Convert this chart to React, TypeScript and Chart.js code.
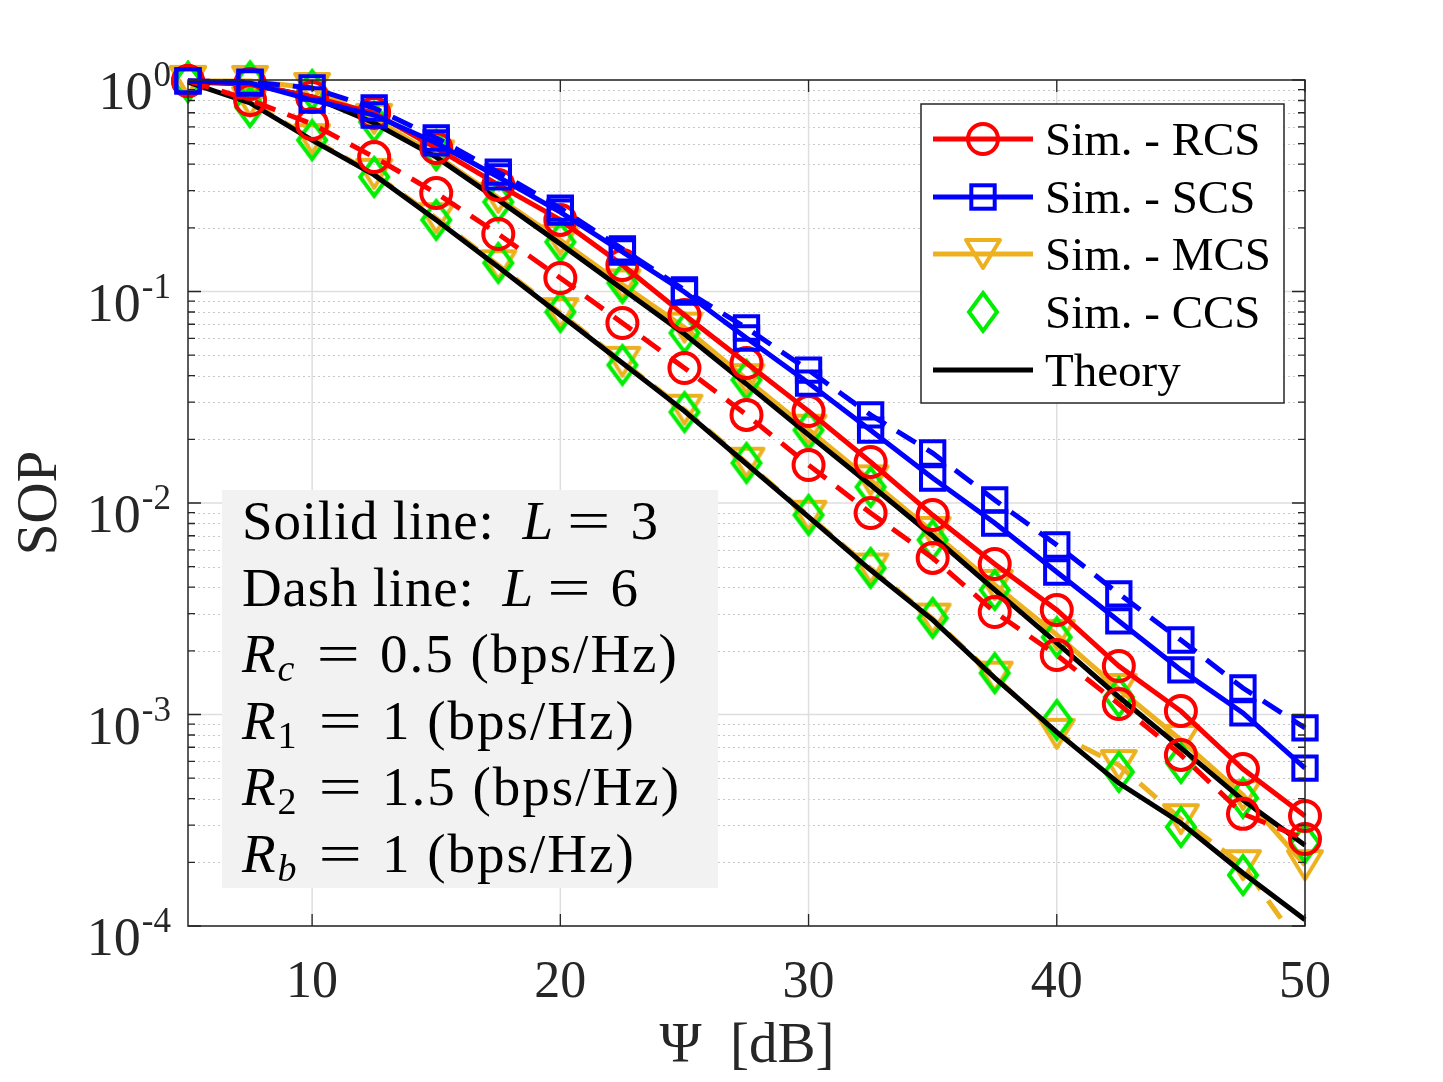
import { useEffect, useRef } from 'react';
import { Chart, registerables } from 'chart.js';

Chart.register(...registerables);

// ---------------- data ----------------
const snrDb = [5, 7.5, 10, 12.5, 15, 17.5, 20, 22.5, 25, 27.5, 30, 32.5, 35, 37.5, 40, 42.5, 45, 47.5, 50];

const rcsL3 = [0.99, 0.957, 0.831, 0.698, 0.477, 0.319, 0.218, 0.1334, 0.0774, 0.0459, 0.0272, 0.01563, 0.00877, 0.00515, 0.00312, 0.001695, 0.001038, 0.000552, 0.000331];
const rcsL6 = [0.99, 0.804, 0.619, 0.432, 0.292, 0.187, 0.1159, 0.071, 0.0435, 0.0261, 0.01513, 0.00897, 0.0055, 0.00305, 0.00191, 0.00112, 0.000644, 0.000339, 0.000258];
const scsL3 = [0.99, 0.968, 0.804, 0.683, 0.504, 0.348, 0.2375, 0.1538, 0.0995, 0.0603, 0.0369, 0.0221, 0.01313, 0.00804, 0.00472, 0.00277, 0.001625, 0.001017, 0.000558];
const scsL6 = [0.99, 0.978, 0.917, 0.737, 0.532, 0.367, 0.248, 0.159, 0.1017, 0.0672, 0.0425, 0.0261, 0.01723, 0.01033, 0.00633, 0.00372, 0.00225, 0.001334, 0.000864];
const mcsL3 = [0.99, 0.99, 0.917, 0.655, 0.44, 0.277, 0.175, 0.108, 0.0675, 0.0385, 0.0222, 0.0128, 0.0073, 0.0041, 0.00238, 0.00132, 0.000758, 0.000416, 0.000194];
const mcsL6 = [0.99, 0.79, 0.525, 0.36, 0.222, 0.133, 0.079, 0.0465, 0.0276, 0.0155, 0.0087, 0.0049, 0.00284, 0.00151, 0.00081, 0.000577, 0.00032, 0.000194, 0.000075];
const ccsL3 = [0.978, 0.985, 0.897, 0.633, 0.467, 0.265, 0.1715, 0.1097, 0.0637, 0.0382, 0.0221, 0.01191, 0.00669, 0.00388, 0.00232, 0.00121, 0.00059, 0.000403, 0.000247];
const ccsL6 = [0.978, 0.745, 0.52, 0.348, 0.218, 0.1364, 0.08, 0.0449, 0.0269, 0.01546, 0.00877, 0.00493, 0.00286, 0.00157, 0.000942, 0.000535, 0.000294, 0.000174, 0.000078];
const theoryL3 = [0.978, 0.957, 0.831, 0.626, 0.432, 0.271, 0.168, 0.1027, 0.063, 0.0365, 0.021, 0.01217, 0.00698, 0.00388, 0.00218, 0.00121, 0.000695, 0.000394, 0.000241];
const theoryL6 = [0.978, 0.779, 0.52, 0.356, 0.218, 0.1306, 0.0774, 0.0459, 0.0272, 0.01529, 0.00859, 0.00482, 0.0028, 0.00149, 0.000826, 0.000474, 0.000307, 0.000178, 0.000107];

const xTickValues = [10, 20, 30, 40, 50];
const yDecadeExponents = [0, -1, -2, -3, -4];
const xTitle = 'Ψ  [dB]';
const yTitle = 'SOP';
const legendLabels = ['Sim. - RCS', 'Sim. - SCS', 'Sim. - MCS', 'Sim. - CCS', 'Theory'];
const noteLines = [
  { label: 'Soilid line:', sym: 'L', sub: '', value: '3' },
  { label: 'Dash line:', sym: 'L', sub: '', value: '6' },
  { label: '', sym: 'R', sub: 'c', value: '0.5 (bps/Hz)' },
  { label: '', sym: 'R', sub: '1', value: '1 (bps/Hz)' },
  { label: '', sym: 'R', sub: '2', value: '1.5 (bps/Hz)' },
  { label: '', sym: 'R', sub: 'b', value: '1 (bps/Hz)' },
];

// ---------------- styles ----------------
const FONT = '"Liberation Serif", "Times New Roman", Times, serif';
const AXIS = '#262626';
const RED = '#ff0000';
const BLUE = '#0000ff';
const ORANGE = '#edb120';
const GREEN = '#00ee00';
const BLACK = '#000000';
const LINE_W = 5;
const MARK_W = 4;

function makeTriangle(color: string) {
  const c = document.createElement('canvas');
  c.width = 42;
  c.height = 38;
  const g = c.getContext('2d')!;
  g.strokeStyle = color;
  g.lineWidth = MARK_W;
  g.lineJoin = 'round';
  g.beginPath();
  g.moveTo(4, 5);
  g.lineTo(38, 5);
  g.lineTo(21, 33);
  g.closePath();
  g.stroke();
  return c;
}

function makeDiamond(color: string) {
  const c = document.createElement('canvas');
  c.width = 36;
  c.height = 46;
  const g = c.getContext('2d')!;
  g.strokeStyle = color;
  g.lineWidth = MARK_W;
  g.lineJoin = 'miter';
  g.beginPath();
  g.moveTo(18, 4);
  g.lineTo(32, 23);
  g.lineTo(18, 42);
  g.lineTo(4, 23);
  g.closePath();
  g.stroke();
  return c;
}

export default function App() {
  const ref = useRef<HTMLCanvasElement>(null);

  useEffect(() => {
    const canvas = ref.current!;
    const tri = makeTriangle(ORANGE);
    const dia = makeDiamond(GREEN);

    const pts = (arr: number[]) => snrDb.map((x, i) => ({ x, y: arr[i] }));
    const base = (label: string, arr: number[], color: string) => ({
      label,
      data: pts(arr),
      borderColor: color,
      backgroundColor: color,
      borderWidth: LINE_W,
      pointBorderColor: color,
      pointBackgroundColor: 'rgba(0,0,0,0)',
      pointBorderWidth: MARK_W,
      pointHoverRadius: 0,
      tension: 0,
      clip: { left: 40, top: 40, right: 40, bottom: 0 },
    });
    const DASH = [22, 13];

    const datasets: any[] = [
      { ...base('MCS L=3', mcsL3, ORANGE), pointStyle: tri, pointRadius: 19, order: 5 },
      { ...base('MCS L=6', mcsL6, ORANGE), pointStyle: tri, pointRadius: 19, borderDash: DASH, order: 5 },
      { ...base('CCS L=3', ccsL3, GREEN), showLine: false, pointStyle: dia, pointRadius: 19, order: 4 },
      { ...base('CCS L=6', ccsL6, GREEN), showLine: false, pointStyle: dia, pointRadius: 19, order: 4 },
      { ...base('Theory L=3', theoryL3, BLACK), pointRadius: 0, order: 3 },
      { ...base('Theory L=6', theoryL6, BLACK), pointRadius: 0, order: 3 },
      { ...base('RCS L=3', rcsL3, RED), pointStyle: 'circle', pointRadius: 15, order: 2 },
      { ...base('RCS L=6', rcsL6, RED), pointStyle: 'circle', pointRadius: 15, borderDash: DASH, order: 2 },
      { ...base('SCS L=3', scsL3, BLUE), pointStyle: 'rect', pointRadius: 16.5, order: 1 },
      { ...base('SCS L=6', scsL6, BLUE), pointStyle: 'rect', pointRadius: 16.5, borderDash: DASH, order: 1 },
    ];

    const decor = {
      id: 'decor',
      beforeDatasetsDraw(chart: any) {
        const { ctx, chartArea: a, scales } = chart;
        const xs = scales.x;
        const ys = scales.y;
        ctx.save();
        // minor grid (dotted)
        ctx.strokeStyle = 'rgb(200,200,200)';
        ctx.lineWidth = 1;
        ctx.setLineDash([2, 3]);
        for (const e of yDecadeExponents) {
          if (e === 0) continue;
          for (let m = 2; m <= 9; m++) {
            const py = Math.round(ys.getPixelForValue(m * Math.pow(10, e))) + 0.5;
            ctx.beginPath();
            ctx.moveTo(a.left, py);
            ctx.lineTo(a.right, py);
            ctx.stroke();
          }
        }
        // major grid
        ctx.setLineDash([]);
        ctx.strokeStyle = 'rgb(222,222,222)';
        ctx.lineWidth = 1.5;
        for (const e of yDecadeExponents) {
          const py = ys.getPixelForValue(Math.pow(10, e));
          ctx.beginPath();
          ctx.moveTo(a.left, py);
          ctx.lineTo(a.right, py);
          ctx.stroke();
        }
        for (const v of xTickValues) {
          const px = xs.getPixelForValue(v);
          ctx.beginPath();
          ctx.moveTo(px, a.top);
          ctx.lineTo(px, a.bottom);
          ctx.stroke();
        }
        // note box
        ctx.fillStyle = 'rgb(242,242,242)';
        ctx.fillRect(222, 490, 496, 398);
        ctx.fillStyle = '#000';
        ctx.textBaseline = 'alphabetic';
        ctx.textAlign = 'left';
        const fs = 55;
        noteLines.forEach((ln, i) => {
          const by = 539 + i * 66.5;
          let x = 242;
          if (ln.label) {
            ctx.font = `${fs}px ${FONT}`;
            (ctx as any).letterSpacing = '0.8px';
            ctx.fillText(ln.label, x, by);
            x += ctx.measureText(ln.label).width + 28;
            (ctx as any).letterSpacing = '0px';
          }
          ctx.font = `italic ${fs}px ${FONT}`;
          ctx.fillText(ln.sym, x, by);
          x += ctx.measureText(ln.sym).width + 2;
          if (ln.sub) {
            const isDigit = /\d/.test(ln.sub);
            ctx.font = `${isDigit ? '' : 'italic '}38px ${FONT}`;
            ctx.fillText(ln.sub, x, by + 9);
            x += ctx.measureText(ln.sub).width + 22;
          } else {
            x += 12;
          }
          ctx.font = `${fs}px ${FONT}`;
          const eqScale = 1.4;
          ctx.save();
          ctx.scale(eqScale, 1);
          ctx.fillText('=', x / eqScale, by);
          ctx.restore();
          x += ctx.measureText('=').width * eqScale + 20;
          (ctx as any).letterSpacing = '2px';
          ctx.fillText(ln.value, x, by);
          (ctx as any).letterSpacing = '0px';
        });
        ctx.restore();
      },
      afterDatasetsDraw(chart: any) {
        const { ctx, chartArea: a, scales } = chart;
        const xs = scales.x;
        const ys = scales.y;
        ctx.save();
        ctx.setLineDash([]);
        // axes box
        ctx.strokeStyle = AXIS;
        ctx.lineWidth = 1.5;
        ctx.strokeRect(a.left, a.top, a.right - a.left, a.bottom - a.top);
        // y ticks
        ctx.lineWidth = 1.3;
        for (const e of yDecadeExponents) {
          for (let m = 1; m <= 9; m++) {
            if (e === 0 && m > 1) continue;
            const py = ys.getPixelForValue(m * Math.pow(10, e));
            const len = m === 1 ? 13 : 7;
            ctx.beginPath();
            ctx.moveTo(a.left, py);
            ctx.lineTo(a.left + len, py);
            ctx.moveTo(a.right, py);
            ctx.lineTo(a.right - len, py);
            ctx.stroke();
          }
        }
        // x ticks
        for (const v of xTickValues) {
          const px = xs.getPixelForValue(v);
          ctx.beginPath();
          ctx.moveTo(px, a.bottom);
          ctx.lineTo(px, a.bottom - 12);
          ctx.moveTo(px, a.top);
          ctx.lineTo(px, a.top + 12);
          ctx.stroke();
        }
        // x tick labels
        ctx.fillStyle = AXIS;
        ctx.textBaseline = 'alphabetic';
        ctx.textAlign = 'center';
        ctx.font = `52px ${FONT}`;
        for (const v of xTickValues) {
          ctx.fillText(String(v), xs.getPixelForValue(v), 997);
        }
        // y tick labels 10^e
        for (const e of yDecadeExponents) {
          const py = ys.getPixelForValue(Math.pow(10, e));
          const right = 171;
          ctx.font = `35px ${FONT}`;
          const es = String(e);
          const we = ctx.measureText(es).width;
          ctx.textAlign = 'left';
          ctx.fillText(es, right - we, py + 6);
          ctx.font = `54px ${FONT}`;
          ctx.textAlign = 'right';
          ctx.fillText('10', right - we - 1, py + 29);
        }
        // axis titles
        ctx.textAlign = 'center';
        ctx.font = `57px ${FONT}`;
        ctx.fillText(xTitle, 747, 1062);
        ctx.save();
        ctx.translate(56, 503);
        ctx.rotate(-Math.PI / 2);
        ctx.fillText(yTitle, 0, 0);
        ctx.restore();

        // legend
        const lx = 921, ly = 104, lw = 363, lh = 299;
        ctx.fillStyle = '#ffffff';
        ctx.fillRect(lx, ly, lw, lh);
        ctx.strokeStyle = AXIS;
        ctx.lineWidth = 1.5;
        ctx.strokeRect(lx, ly, lw, lh);
        const rows = [139, 197, 254, 312, 370];
        const colors = [RED, BLUE, ORANGE, GREEN, BLACK];
        legendLabels.forEach((lab, i) => {
          const cy = rows[i];
          const col = colors[i];
          if (i !== 3) {
            ctx.strokeStyle = col;
            ctx.lineWidth = LINE_W;
            ctx.beginPath();
            ctx.moveTo(933, cy);
            ctx.lineTo(1033, cy);
            ctx.stroke();
          }
          ctx.lineWidth = MARK_W;
          ctx.strokeStyle = col;
          if (i === 0) {
            ctx.beginPath();
            ctx.arc(983, cy, 15, 0, Math.PI * 2);
            ctx.stroke();
          } else if (i === 1) {
            ctx.strokeRect(983 - 11.7, cy - 11.7, 23.4, 23.4);
          } else if (i === 2) {
            ctx.drawImage(tri, 983 - tri.width / 2, cy - tri.height / 2);
          } else if (i === 3) {
            ctx.drawImage(dia, 983 - dia.width / 2, cy - dia.height / 2);
          }
          ctx.fillStyle = '#000';
          ctx.font = `47px ${FONT}`;
          ctx.textAlign = 'left';
          ctx.fillText(lab, 1045, cy + 16);
        });
        ctx.restore();
      },
    };

    const chart = new Chart(canvas, {
      type: 'line',
      data: { datasets },
      options: {
        responsive: false,
        maintainAspectRatio: false,
        animation: false,
        devicePixelRatio: 1,
        events: [],
        layout: { padding: { left: 188, top: 80, right: 138, bottom: 156 } },
        scales: {
          x: { type: 'linear', min: 5, max: 50, display: false },
          y: { type: 'logarithmic', min: 1e-4, max: 1, display: false },
        },
        plugins: { legend: { display: false }, tooltip: { enabled: false } },
      },
      plugins: [decor],
    } as any);

    return () => chart.destroy();
  }, []);

  return (
    <div style={{ position: 'absolute', left: 0, top: 0, width: 1443, height: 1082, background: '#ffffff' }}>
      <canvas ref={ref} width={1443} height={1082} style={{ display: 'block', width: 1443, height: 1082 }} />
    </div>
  );
}
